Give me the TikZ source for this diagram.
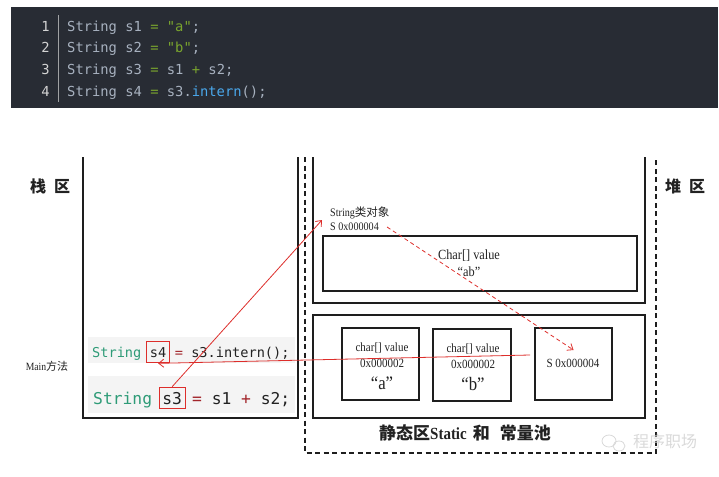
\documentclass[tikz,border=0pt]{standalone}
\usepackage{fontspec}
\setmainfont{Liberation Serif}
\newfontfamily\cond[FakeStretch=0.88]{Liberation Serif}
\newfontfamily\cjk{Noto Sans CJK SC}
\newfontfamily\codefont{DejaVu Sans Mono}
\usetikzlibrary{arrows.meta,fit}
\definecolor{codebg}{HTML}{282C34}
\definecolor{codefg}{HTML}{A7B1BF}
\definecolor{lnum}{HTML}{D4D4D4}
\definecolor{cgreen}{HTML}{7AA52E}
\definecolor{cblue}{HTML}{4AA8EC}
\definecolor{kwteal}{HTML}{2E9B77}
\definecolor{opred}{HTML}{A3262B}
\definecolor{bandgray}{HTML}{F4F4F4}
\definecolor{arrowred}{HTML}{DD2E2B}
\definecolor{boxline}{HTML}{1E1E1E}
\definecolor{txt}{HTML}{222222}
\definecolor{wm}{HTML}{D9D9D9}
\begin{document}
\begin{tikzpicture}[x=1pt,y=-1pt,
  wall/.style={draw=boxline,line width=1.6pt},
  dashwall/.style={draw=boxline,line width=1.6pt,dash pattern=on 5pt off 3.5pt},
  box/.style={draw=boxline,line width=1.6pt,inner sep=0},
  topcode/.style={font=\codefont\fontsize{13.8}{16}\selectfont,text=codefg,anchor=base west,inner sep=0},
  lnumst/.style={font=\codefont\fontsize{13.8}{16}\selectfont,text=lnum,anchor=base east,inner sep=0},
  codeA/.style={font=\codefont\fontsize{13.6}{16}\selectfont,text=txt,anchor=base west,inner sep=0},
  codeB/.style={font=\codefont\fontsize{16.3}{18}\selectfont,text=txt,anchor=base west,inner sep=0},
  redbox/.style={draw=arrowred,line width=0.9pt,inner xsep=3pt},
  redarrow/.style={draw=arrowred,line width=0.8pt,-{Straight Barb[length=5pt,width=8pt]}},
  small/.style={font=\cond\fontsize{12.5}{14}\selectfont,text=txt,inner sep=0},
  title/.style={font=\bfseries\fontsize{17}{17}\selectfont,text=txt,inner sep=0}
]
\useasboundingbox (0,0) rectangle (719,476);
% code block
\fill[codebg] (11,7) rectangle (718,108);
\draw[draw=lnum!70!codebg,line width=1pt] (58.5,15) -- (58.5,102);
\foreach \n/\y in {1/31.5,2/53,3/74.5,4/96}{
  \node[lnumst] (ln\n) at (50,\y) {\n};
}
\node[topcode] (t1) at (67,31.5) {String s1 \textcolor{cgreen}{=} \textcolor{cgreen}{"a"};};
\node[topcode] (t2) at (67,53) {String s2 \textcolor{cgreen}{=} \textcolor{cgreen}{"b"};};
\node[topcode] (t3) at (67,74.5) {String s3 \textcolor{cgreen}{=} s1 \textcolor{cgreen}{+} s2;};
\node[topcode] (t4) at (67,96) {String s4 \textcolor{cgreen}{=} s3.\textcolor{cblue}{intern}();};

% stack area
\draw[wall] (83,157) -- (83,418) -- (298,418) -- (298,157);
\fill[bandgray] (88,337) rectangle (295,363);
\fill[bandgray] (88,376) rectangle (295,413);
\node[font=\cjk\bfseries\fontsize{16}{16}\selectfont,text=txt] (stackLbl) at (50,186) {栈\hspace{8pt}区};
\node[font=\cond\fontsize{11}{11}\selectfont,text=txt] (mainLbl) at (47,366) {Main{\cjk 方法}};

\node[codeA] (c1a) at (92,357) {\textcolor{kwteal}{String}\kern0.602em};
\node[codeA] (c1s4) at (c1a.base east) {s4};
\node[codeA] (c1b) at (c1s4.base east) {\kern0.602em\textcolor{opred}{=} s3.intern();};
\node[redbox,inner ysep=5.5pt,fit=(c1s4)] (r4) {};

\node[codeB] (c2a) at (93,404) {\textcolor{kwteal}{String}\kern0.602em};
\node[codeB] (c2s3) at (c2a.base east) {s3};
\node[codeB] (c2b) at (c2s3.base east) {\kern0.602em\textcolor{opred}{=} s1 \textcolor{opred}{+} s2;};
\node[redbox,inner ysep=4.5pt,fit=(c2s3)] (r3) {};

% heap area
\draw[dashwall] (305,157) -- (305,453) -- (656,453) -- (656,157);
\draw[wall] (313,157) -- (313,303) -- (645,303) -- (645,157);
\node[font=\cjk\bfseries\fontsize{16}{16}\selectfont,text=txt] (heapLbl) at (685,186) {堆\hspace{8pt}区};

\node[small,anchor=west,font=\cond\fontsize{11.5}{12}\selectfont] (objA) at (330,213) {String{\cjk 类对象}};
\node[small,anchor=west,font=\cond\fontsize{11.5}{12}\selectfont] (objB) at (330,227) {S 0x000004};
\node[box,minimum width=314pt,minimum height=55pt] (valbox) at (480,263.5) {};
\node[small,font=\cond\fontsize{14}{14}\selectfont] (valtxt) at (469,256) {Char[] value};
\node[small,font=\cond\fontsize{14}{14}\selectfont] (abtxt) at (469,272) {“ab”};

% constant pool
\node[box,minimum width=332pt,minimum height=103pt] (pool) at (479,366.5) {};
\node[box,minimum width=77pt,minimum height=72pt] (abox) at (380.5,364) {};
\node[box,minimum width=78pt,minimum height=72pt] (bbox) at (472,365) {};
\node[box,minimum width=77pt,minimum height=72pt] (sbox) at (573.5,364) {};
\node[small] (aval) at (382,348) {char[] value};
\node[small] (aaddr) at (382,363) {0x000002};
\node[small,font=\cond\fontsize{19}{19}\selectfont] (achr) at (382,383) {“a”};
\node[small] (bval) at (473,349) {char[] value};
\node[small] (baddr) at (473,364) {0x000002};
\node[small,font=\cond\fontsize{19}{19}\selectfont] (bchr) at (473,384) {“b”};
\node[small] (saddr) at (573,363) {S 0x000004};
\node[title] (poolLbl) at (465,433) {{\cjk 静态区}{\cond Static}\hspace{6pt}{\cjk 和}\hspace{10pt}{\cjk 常量池}};

% watermark
\draw[wm,line width=0.8pt] (609,441) ellipse (7pt and 6pt);
\draw[wm,line width=0.8pt] (619,446) ellipse (6pt and 5pt);
\node[font=\cjk\fontsize{16}{16}\selectfont,text=wm] (wmtxt) at (665,441) {程序职场};

% connectors
\coordinate (tip1) at (322,220);
\draw[redarrow] (r3.north) -- (tip1);
\draw[redarrow] ([xshift=-4pt,yshift=9pt]sbox.west) -- (r4.south);
\draw[redarrow,dashed,dash pattern=on 4pt off 3pt] ([xshift=8pt]objB.east) -- ([yshift=14pt]sbox.center);
\end{tikzpicture}
\end{document}
